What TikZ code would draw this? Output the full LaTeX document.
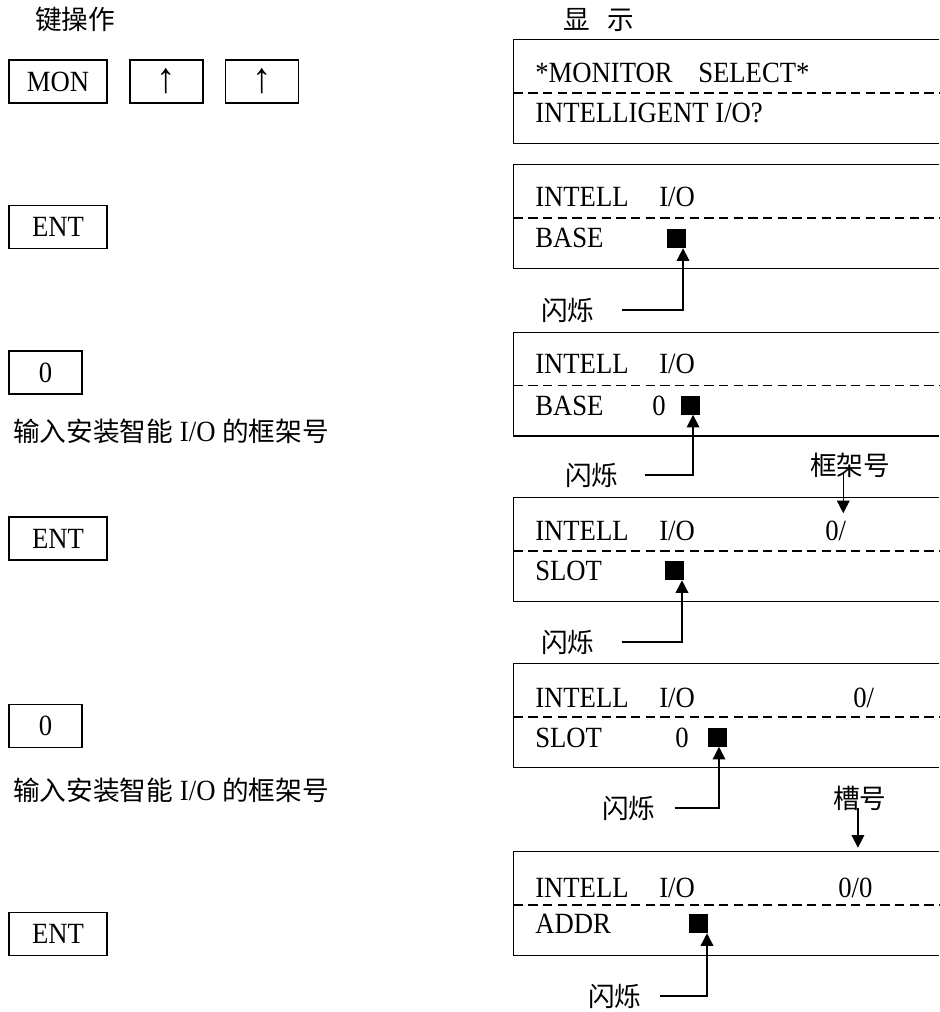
\documentclass[tikz,border=0pt]{standalone}
\usepackage{fontspec}
\setmainfont{Liberation Serif}[FakeStretch=0.91]
\newfontfamily\cjk{Noto Sans CJK SC}
\usetikzlibrary{arrows.meta,calc}
\tikzset{
  key/.style={draw, line width=1.2pt, minimum height=32.25pt, inner sep=0pt, font=\fontsize{22}{24}\selectfont},
  keywide/.style={key, minimum width=73.5pt},
  keynarrow/.style={key, minimum width=54.75pt},
  uparrow/.style={font=\fontsize{32}{34}\selectfont},
  disp/.style={minimum width=318.75pt, minimum height=77.25pt, inner sep=0pt},
  frame/.style={line width=1.1pt},
  sep/.style={line width=0.9pt, dash pattern=on 7pt off 4pt},
  lcd/.style={anchor=base west, inner sep=0pt, font=\fontsize{22}{24}\selectfont},
  zh/.style={anchor=base west, inner sep=0pt, font=\fontsize{20}{24}\selectfont\cjk},
  blk/.style={fill=black, minimum size=14.25pt, inner sep=0pt},
  arr/.style={line width=1.1pt, -{Triangle[width=9.5pt,length=9.5pt]}},
}
\begin{document}
\begin{tikzpicture}[x=0.75pt,y=-0.75pt]
\useasboundingbox (0,0) rectangle (939,1012);

% headers
\node[zh] (hkey) at (35,30) {键操作};
\node[zh] (hdisp) at (563,30) {显\hspace{13pt}示};

% keys
\node[keywide] (mon) at (58,81.5) {MON};
\node[keynarrow, uparrow] (up1) at (166.5,81.5) {↑};
\node[keynarrow, uparrow] (up2) at (262,81.5) {↑};
\node[keywide] (ent1) at (58,227) {ENT};
\node[keynarrow] (n01) at (45.5,372.5) {0};
\node[lcd] (note1) at (13,441) {{\cjk\fontsize{20}{24}\selectfont 输入安装智能} I/O {\cjk\fontsize{20}{24}\selectfont 的框架号}};
\node[keywide] (ent2) at (58,538.5) {ENT};
\node[keynarrow] (n02) at (45.5,726) {0};
\node[lcd] (note2) at (13,800) {{\cjk\fontsize{20}{24}\selectfont 输入安装智能} I/O {\cjk\fontsize{20}{24}\selectfont 的框架号}};
\node[keywide] (ent3) at (58,934) {ENT};

% display frames
\node[disp] (d1) at (726.5,91.5) {};
\node[disp] (d2) at (726.5,216.5) {};
\node[disp] (d3) at (726.5,384) {};
\node[disp] (d4) at (726.5,549.5) {};
\node[disp] (d5) at (726.5,715.5) {};
\node[disp] (d6) at (726.5,903.5) {};
\foreach \d in {d1,d2,d3,d4,d5,d6}{
  \draw[frame] (\d.north east) -- (\d.north west) -- (\d.south west) -- (\d.south east);
  \draw[sep] ([yshift=-40pt]\d.north west) -- ([yshift=-40pt]\d.north east);
}

% display 1
\node[lcd] (t1a) at (535,83) {*MONITOR};
\node[lcd] (t1b) at (698,83) {SELECT*};
\node[lcd] (t1c) at (535,123) {INTELLIGENT I/O?};
% display 2
\node[lcd] (t2a) at (535,207) {INTELL};
\node[lcd] (t2b) at (659,207) {I/O};
\node[lcd] (t2c) at (535,248) {BASE};
\node[blk] (sq1) at (676.5,238.5) {};
% display 3
\node[lcd] (t3a) at (535,373) {INTELL};
\node[lcd] (t3b) at (659,373) {I/O};
\node[lcd] (t3c) at (535,415) {BASE};
\node[lcd] (t3d) at (652,415) {0};
\node[blk] (sq2) at (690.5,405) {};
% display 4
\node[lcd] (t4a) at (535,540) {INTELL};
\node[lcd] (t4b) at (659,540) {I/O};
\node[lcd] (s4) at (825,540) {0/};
\node[lcd] (t4c) at (535,580) {SLOT};
\node[blk] (sq3) at (674.5,570.5) {};
% display 5
\node[lcd] (t5a) at (535,707) {INTELL};
\node[lcd] (t5b) at (659,707) {I/O};
\node[lcd] (s5) at (853,707) {0/};
\node[lcd] (t5c) at (535,747) {SLOT};
\node[lcd] (t5d) at (675,747) {0};
\node[blk] (sq4) at (717,737) {};
% display 6
\node[lcd] (t6a) at (535,897) {INTELL};
\node[lcd] (t6b) at (659,897) {I/O};
\node[lcd] (s6) at (838,897) {0/0};
\node[lcd] (t6c) at (535,933) {ADDR};
\node[blk] (sq5) at (698,923.5) {};

% flash labels and arrows
\node[zh] (fl1) at (541,320) {闪烁};
\node[zh] (fl2) at (565,485) {闪烁};
\node[zh] (fl3) at (541,652) {闪烁};
\node[zh] (fl4) at (602,818) {闪烁};
\node[zh] (fl5) at (588,1006) {闪烁};
\draw[arr] ([xshift=20pt]fl1.east) -| ([xshift=4.9pt]sq1.south);
\draw[arr] ([xshift=19.5pt]fl2.east) -| ([xshift=1.9pt]sq2.south);
\draw[arr] ([xshift=20pt]fl3.east) -| ([xshift=5.6pt]sq3.south);
\draw[arr] ([xshift=14pt]fl4.east) -| ([xshift=1.5pt]sq4.south);
\draw[arr] ([xshift=13.5pt]fl5.east) -| ([xshift=6.75pt]sq5.south);

% base / slot labels
\node[zh] (kj) at (810,475) {框架号};
\node[zh] (ch) at (833,808) {槽号};
\draw[arr] ($(kj.south)+(-7,-4)$) -- ($(kj.south |- s4.north)+(-7,-7)$);
\draw[arr] ($(ch.south)+(-2,-2)$) -- ($(ch.south |- d6.north)+(-2,-4)$);
\end{tikzpicture}
\end{document}
